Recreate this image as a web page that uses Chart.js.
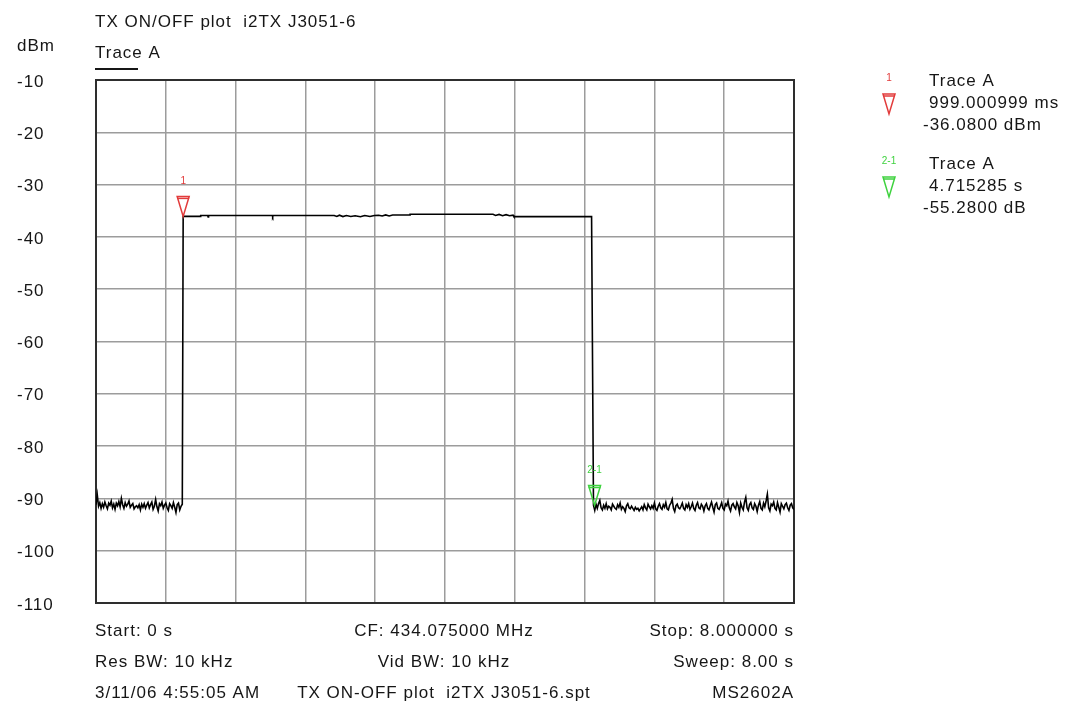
<!DOCTYPE html>
<html>
<head>
<meta charset="utf-8">
<script src="https://cdn.jsdelivr.net/npm/chart.js@4"></script>
<style>
  html, body { margin: 0; padding: 0; background: #fff; }
  canvas { display: block; }
</style>
</head>
<body>
<canvas id="plot" width="1074" height="709"></canvas>
<script>
// ---- Sweep setup ----
const sweepStart = 0;          // s
const sweepStop = 8;           // s
const sweepPoints = 551;
const levelTicks = [-110, -100, -90, -80, -70, -60, -50, -40, -30, -20, -10];
const timeGridTicks = [0, 0.8, 1.6, 2.4, 3.2, 4.0, 4.8, 5.6, 6.4, 7.2, 8.0];

// Noise floor before the transmitter keys up (sweep points 0..68), dBm
const noiseBefore = [
  -91.2, -89.3, -91.5, -90.8, -91.9, -91.0, -91.7, -90.7, -91.4, -92.0,
  -90.9, -91.3, -90.5, -91.8, -91.1, -92.1, -90.9, -91.4, -90.6, -91.6,
  -90.0, -91.2, -91.9, -90.8, -91.5, -91.1, -90.5, -91.7, -91.3, -91.0,
  -92.0, -91.6, -91.4, -91.8, -91.2, -92.2, -91.1, -91.7, -91.0, -91.9,
  -91.3, -90.8, -91.8, -91.2, -90.7, -92.1, -91.5, -90.2, -91.6, -92.4,
  -91.0, -91.4, -90.7, -91.9, -91.3, -90.9, -91.8, -92.3, -91.0, -91.4,
  -91.9, -90.8, -91.7, -92.7, -91.2, -90.9, -92.2, -91.5, -91.1
];

// Carrier-on portion of the trace
const onTimes = [
  0.999, 1.20, 1.20, 1.28, 1.285, 1.29, 2.02, 2.025, 2.03, 2.73,
  2.76, 2.79, 2.83, 2.87, 2.92, 2.97, 3.03, 3.08, 3.14, 3.19,
  3.24, 3.28, 3.32, 3.36, 3.40, 3.60, 3.60, 4.55, 4.58, 4.62,
  4.66, 4.70, 4.74, 4.78, 4.79, 5.68
];
const onLevels = [
  -36.08, -36.08, -35.92, -35.92, -36.20, -35.92, -35.92, -36.15, -35.92, -35.92,
  -36.10, -35.85, -36.12, -35.90, -36.10, -35.95, -36.15, -35.90, -36.10, -35.90,
  -35.85, -36.00, -35.80, -36.00, -35.82, -35.82, -35.68, -35.68, -35.90, -35.70,
  -35.95, -35.75, -35.95, -35.85, -36.12, -36.12
];

// Noise floor after the carrier drops (sweep points 392..550), dBm
const noiseAfterFirstPoint = 392;
const noiseAfter = [
  -91.3, -92.3, -91.1, -91.9, -91.0, -90.4, -91.8, -92.2, -91.3, -91.9,
  -91.0, -92.0, -91.5, -91.7, -92.2, -91.1, -91.5, -91.9, -92.1, -91.2,
  -91.7, -90.9, -92.1, -91.6, -91.9, -92.5, -91.4, -91.0, -91.8, -92.0,
  -91.5, -91.9, -92.3, -91.7, -92.1, -91.9, -92.4, -92.0, -91.6, -92.2,
  -91.2, -91.8, -92.2, -91.1, -91.6, -92.0, -91.4, -91.9, -90.9, -92.0,
  -92.3, -91.5, -91.0, -91.8, -92.1, -91.2, -91.7, -90.8, -92.0, -92.2,
  -91.3, -90.9, -90.2, -91.9, -92.5, -91.4, -91.1, -91.8, -92.0, -91.5,
  -90.9, -91.9, -92.2, -91.2, -91.7, -91.0, -92.1, -91.6, -90.9, -91.9,
  -92.3, -91.3, -90.8, -91.8, -92.0, -91.1, -91.5, -92.4, -91.4, -91.0,
  -91.9, -92.2, -91.4, -90.7, -91.7, -92.6, -91.2, -90.9, -91.9, -92.1,
  -91.5, -90.8, -91.9, -92.2, -91.1, -91.4, -90.5, -91.8, -92.4, -91.3,
  -91.0, -91.6, -92.0, -90.8, -91.4, -92.7, -90.9, -91.7, -92.2, -90.7,
  -89.8, -91.8, -92.3, -91.2, -90.8, -91.8, -92.1, -91.0, -91.5, -92.5,
  -91.3, -90.6, -91.9, -92.2, -90.9, -91.6, -90.5, -89.2, -91.8, -92.4,
  -91.1, -91.4, -90.7, -91.9, -92.2, -90.8, -91.7, -92.6, -91.0, -91.5,
  -92.0, -91.2, -90.9, -91.8, -92.3, -91.3, -91.0, -91.8, -92.1
];

// Markers: 1 is absolute, 2 is a delta from marker 1
const marker1Time = 0.999000999;   // s
const marker1Level = -36.08;       // dBm
const marker2DeltaTime = 4.715285; // s
const marker2DeltaLevel = -55.28;  // dB
const markerTags = ['1', '2-1'];
const markerColors = ['#e23b3b', '#3fd23f'];
const markerReadouts = [
  ['Trace A', '999.000999 ms', '-36.0800 dBm'],
  ['Trace A', '4.715285 s', '-55.2800 dB']
];

// Header and footer text
const plotTitle = 'TX ON/OFF plot  i2TX J3051-6';
const levelUnit = 'dBm';
const traceName = 'Trace A';
const footerRows = [
  ['Start: 0 s', 'CF: 434.075000 MHz', 'Stop: 8.000000 s'],
  ['Res BW: 10 kHz', 'Vid BW: 10 kHz', 'Sweep: 8.00 s'],
  ['3/11/06 4:55:05 AM', 'TX ON-OFF plot  i2TX J3051-6.spt', 'MS2602A']
];

// ---- Build the trace ----
const sweepStep = (sweepStop - sweepStart) / (sweepPoints - 1);
const tracePoints = [];
noiseBefore.forEach((v, i) => tracePoints.push({ x: sweepStart + i * sweepStep, y: v }));
onTimes.forEach((t, i) => tracePoints.push({ x: t, y: onLevels[i] }));
noiseAfter.forEach((v, i) => tracePoints.push({ x: sweepStart + (noiseAfterFirstPoint + i) * sweepStep, y: v }));

const markerTimes = [marker1Time, marker1Time + marker2DeltaTime];
const markerLevels = [marker1Level, marker1Level + marker2DeltaLevel];

const FONT = '"Liberation Sans", Arial, sans-serif';
const TEXT_COLOR = '#161616';

function setText(ctx, size, spacing) {
  ctx.font = size + 'px ' + FONT;
  if ('letterSpacing' in ctx) ctx.letterSpacing = spacing + 'px';
}

// Open down-pointing marker triangle with its tip on (x, tipY)
function drawTriangle(ctx, x, tipY, color) {
  const w = 6, h = 20;
  ctx.save();
  ctx.strokeStyle = color;
  ctx.lineWidth = 1.5;
  ctx.beginPath();
  ctx.moveTo(x - w, tipY - h);
  ctx.lineTo(x + w, tipY - h);
  ctx.lineTo(x, tipY);
  ctx.closePath();
  ctx.stroke();
  ctx.beginPath();
  ctx.moveTo(x - w, tipY - h + 2);
  ctx.lineTo(x + w, tipY - h + 2);
  ctx.stroke();
  ctx.restore();
}

const analyzerDecor = {
  id: 'analyzerDecor',
  beforeDatasetsDraw(chart) {
    const { ctx, chartArea: a } = chart;
    ctx.save();
    ctx.strokeStyle = '#2e2e2e';
    ctx.lineWidth = 2;
    ctx.strokeRect(a.left, a.top, a.right - a.left, a.bottom - a.top);
    ctx.restore();
  },
  afterDraw(chart) {
    const { ctx, chartArea: a, scales } = chart;
    const ys = scales.y, xs = scales.x;
    ctx.save();
    ctx.fillStyle = TEXT_COLOR;
    ctx.textBaseline = 'middle';
    setText(ctx, 17, 1);

    // Header
    ctx.textAlign = 'left';
    ctx.fillText(plotTitle, a.left - 1, 22);
    ctx.fillText(levelUnit, 17, 46);
    ctx.fillText(traceName, a.left - 1, 53);
    ctx.fillRect(a.left - 1, 68, 43, 2);

    // Level labels
    levelTicks.forEach(v => {
      ctx.fillText(String(v), 17, ys.getPixelForValue(v) + 2);
    });

    // Footer
    footerRows.forEach((row, r) => {
      const y = 631 + r * 31;
      ctx.textAlign = 'left';
      ctx.fillText(row[0], a.left - 1, y);
      ctx.textAlign = 'center';
      ctx.fillText(row[1], (a.left + a.right) / 2 - 1, y);
      ctx.textAlign = 'right';
      ctx.fillText(row[2], a.right, y);
    });

    // Markers on the trace
    markerTimes.forEach((t, i) => {
      const px = xs.getPixelForValue(t);
      const py = ys.getPixelForValue(markerLevels[i]);
      drawTriangle(ctx, px, py, markerColors[i]);
      ctx.fillStyle = markerColors[i];
      ctx.textAlign = 'center';
      setText(ctx, 10, 0);
      ctx.fillText(markerTags[i], px, py - 35);
    });

    // Marker readouts
    markerReadouts.forEach((lines, i) => {
      const top = 81 + i * 83;
      ctx.fillStyle = markerColors[i];
      setText(ctx, 10, 0);
      ctx.textAlign = 'center';
      ctx.fillText(markerTags[i], 889, top - 3);
      drawTriangle(ctx, 889, top + 33, markerColors[i]);
      ctx.fillStyle = TEXT_COLOR;
      setText(ctx, 17, 1);
      ctx.textAlign = 'left';
      ctx.fillText(lines[0], 929, top);
      ctx.fillText(lines[1], 929, top + 22.3);
      ctx.fillText(lines[2], 923, top + 44.6);
    });
    ctx.restore();
  }
};

new Chart(document.getElementById('plot'), {
  type: 'line',
  data: {
    datasets: [{
      label: traceName,
      data: tracePoints,
      borderColor: '#000',
      borderWidth: 1.6,
      pointRadius: 0,
      tension: 0
    }]
  },
  options: {
    responsive: false,
    animation: false,
    devicePixelRatio: 1,
    layout: { padding: { left: 96, right: 280, top: 80, bottom: 106 } },
    plugins: { legend: { display: false }, tooltip: { enabled: false } },
    scales: {
      x: {
        type: 'linear',
        min: sweepStart,
        max: sweepStop,
        afterBuildTicks: s => { s.ticks = timeGridTicks.map(v => ({ value: v })); },
        ticks: { display: false },
        grid: { color: '#9c9c9c', lineWidth: 1.5, drawTicks: false },
        border: { display: false }
      },
      y: {
        type: 'linear',
        min: levelTicks[0],
        max: levelTicks[levelTicks.length - 1],
        afterBuildTicks: s => { s.ticks = levelTicks.map(v => ({ value: v })); },
        ticks: { display: false },
        grid: { color: '#9c9c9c', lineWidth: 1.5, drawTicks: false },
        border: { display: false }
      }
    }
  },
  plugins: [analyzerDecor]
});
</script>
</body>
</html>
